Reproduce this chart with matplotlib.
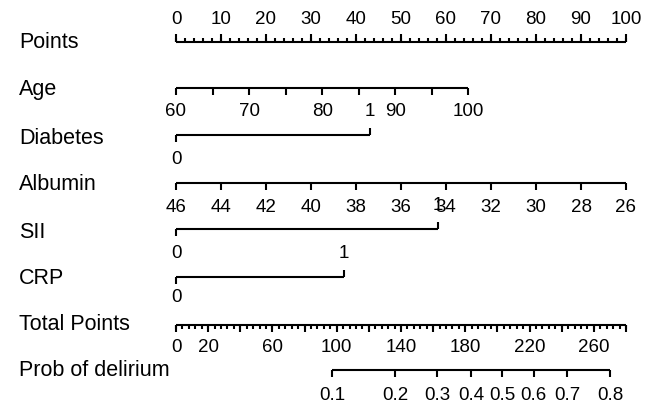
import numpy as np
import matplotlib
matplotlib.use("Agg")
import matplotlib.pyplot as plt

plt.rcParams['font.family'] = ['Liberation Sans', 'DejaVu Sans']

# points scale
points_ticks = list(range(0, 101, 10))
points_minor = list(range(0, 101, 2))

# age: 60 -> 0 pts, 100 -> 65 pts
age_ticks = [60, 65, 70, 75, 80, 85, 90, 95, 100]
age_labels = ["60", "", "70", "", "80", "", "90", "", "100"]
age_range = (60, 100)
age_pts = (0, 65)

diabetes_pts = [0, 43.1]
albumin_ticks = [46, 44, 42, 40, 38, 36, 34, 32, 30, 28, 26]
albumin_range = (46, 26)
albumin_pts = (0, 100)
sii_pts = [0, 58.2]
crp_pts = [0, 37.3]

# total points scale
total_max = 280
total_labels = [0, 20, 60, 100, 140, 180, 220, 260]
total_major = list(range(0, 281, 20))
total_minor = list(range(0, 281, 4))

# probability vs total points
prob_labels = ["0.1", "0.2", "0.3", "0.4", "0.5", "0.6", "0.7", "0.8"]
prob_total = [97, 136.5, 162.5, 183.5, 203, 222.5, 243.5, 270]

row_names = ["Points", "Age", "Diabetes", "Albumin", "SII", "CRP",
             "Total Points", "Prob of delirium"]

W, H = 649, 418
px0, px_per_pt = 176, 4.5

fig = plt.figure(figsize=(W / 100, H / 100), dpi=100)
ax = fig.add_axes([0, 0, 1, 1])
ax.set_xlim(-px0 / px_per_pt, (W - px0) / px_per_pt)
ax.set_ylim(H, 0)
ax.axis('off')

lw = 1.5
fs_tick = 13.5
fs_row = 15.5
kw = dict(color='black', lw=lw, solid_capstyle='butt')


def lin(v, vr, pr):
    v = np.asarray(v, dtype=float)
    return pr[0] + (v - vr[0]) / (vr[1] - vr[0]) * (pr[1] - pr[0])


def hline(y, x0, x1):
    ax.plot([x0, x1], [y, y], **kw)


def ticks(xs, y, length):
    for x in xs:
        ax.plot([x, x], [y, y + length], **kw)


def labels(xs, texts, y):
    for x, t in zip(xs, texts):
        if t != "":
            ax.text(x, y, t, ha='center', va='center', fontsize=fs_tick)


row_y = [43, 89, 138, 185, 232, 279, 325, 370]
for name, y in zip(row_names, row_y):
    ax.text(-px0 / px_per_pt + 19 / px_per_pt, y, name, ha='left', va='center',
            fontsize=fs_row)

# Points
y = 42
hline(y, 0, 100)
ticks(points_minor, y, -4.5)
ticks(points_ticks, y, -8)
labels(points_ticks, [str(t) for t in points_ticks], 19)

# Age
y = 88
ax_age = lin(age_ticks, age_range, age_pts)
hline(y, ax_age[0], ax_age[-1])
ticks(ax_age, y, 7)
labels(ax_age, age_labels, 112)

# Diabetes
y = 135
hline(y, diabetes_pts[0], diabetes_pts[1])
ticks([diabetes_pts[0]], y, 7)
ticks([diabetes_pts[1]], y, -7)
labels([diabetes_pts[1]], ["1"], 112)
labels([diabetes_pts[0]], ["0"], 159)

# Albumin
y = 183
ax_alb = lin(albumin_ticks, albumin_range, albumin_pts)
hline(y, ax_alb[0], ax_alb[-1])
ticks(ax_alb, y, 7)
labels(ax_alb, [str(t) for t in albumin_ticks], 207)

# SII
y = 229
hline(y, sii_pts[0], sii_pts[1])
ticks([sii_pts[0]], y, 7)
ticks([sii_pts[1]], y, -7)
labels([sii_pts[1]], ["1"], 206)
labels([sii_pts[0]], ["0"], 254)

# CRP
y = 277
hline(y, crp_pts[0], crp_pts[1])
ticks([crp_pts[0]], y, 7)
ticks([crp_pts[1]], y, -7)
labels([crp_pts[1]], ["1"], 254)
labels([crp_pts[0]], ["0"], 298)

# Total Points
y = 325
scale = 100 / total_max
hline(y, 0, total_max * scale)
ticks([t * scale for t in total_minor], y, 3.5)
ticks([t * scale for t in total_major], y, 6.5)
labels([t * scale for t in total_labels], [str(t) for t in total_labels], 348)

# Prob of delirium
y = 370
px = [t * scale for t in prob_total]
hline(y, px[0], px[-1])
ticks(px, y, 7)
labels(px, prob_labels, 396)

fig.savefig("out.png", dpi=100)
